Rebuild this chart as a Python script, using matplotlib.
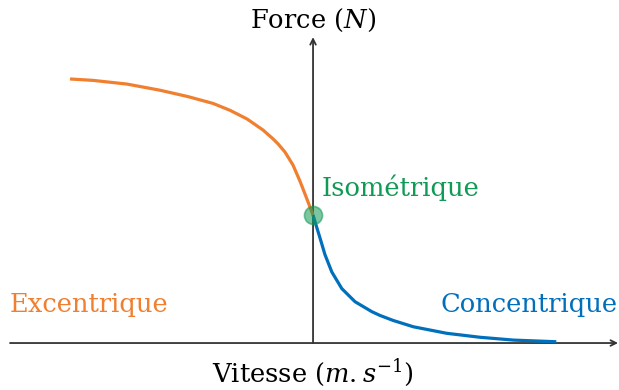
import matplotlib
matplotlib.use("Agg")
import matplotlib.pyplot as plt

# force-velocity relation (velocity normalised, force / isometric force)
ecc_v = [-0.996, -0.902, -0.762, -0.627, -0.512, -0.410, -0.340, -0.270, -0.205,
         -0.164, -0.143, -0.115, -0.082, -0.053, -0.025, 0.0]
ecc_f = [2.063, 2.052, 2.023, 1.975, 1.925, 1.872, 1.818, 1.75, 1.664,
         1.595, 1.555, 1.492, 1.39, 1.262, 1.125, 1.0]
con_v = [0.0, 0.008, 0.029, 0.049, 0.077, 0.118, 0.172, 0.241, 0.275, 0.329,
         0.411, 0.548, 0.684, 0.821, 0.997]
con_f = [1.0, 0.948, 0.818, 0.69, 0.555, 0.425, 0.323, 0.245, 0.215, 0.176,
         0.127, 0.076, 0.045, 0.023, 0.010]
iso_v, iso_f = 0.0, 1.0

orange = "#F07F2F"
blue = "#0070BC"
green = "#119A55"
axcol = "#333333"

plt.rcParams['font.family'] = 'DejaVu Serif'
plt.rcParams['mathtext.fontset'] = 'dejavuserif'

fig = plt.figure(figsize=(6.19, 3.90), dpi=100)
ax = fig.add_axes([0, 0, 1, 1])
ax.set_xlim(-1.283, 1.254)
ax.set_ylim(-0.367, 2.68)
ax.axis('off')

# axes with arrows
ax.annotate('', xy=(1.25, 0), xytext=(-1.242, 0),
            arrowprops=dict(arrowstyle='->', color=axcol, lw=1.3, shrinkA=0, shrinkB=0))
ax.annotate('', xy=(0, 2.39), xytext=(0, 0),
            arrowprops=dict(arrowstyle='->', color=axcol, lw=1.3, shrinkA=0, shrinkB=0))

ax.plot(ecc_v, ecc_f, color=orange, lw=2.3, solid_capstyle='butt', solid_joinstyle='round', zorder=3)
ax.plot(con_v, con_f, color=blue, lw=2.3, solid_capstyle='butt', solid_joinstyle='round', zorder=3)
ax.plot([iso_v], [iso_f], 'o', ms=13, color=green, alpha=0.55, mec=green, mew=1.2, zorder=4)

fs = 18.5
ax.text(0, 2.52, 'Force ($N$)', ha='center', va='center', fontsize=fs, color='black')
ax.text(0, -0.23, 'Vitesse ($m{.}s^{-1}$)', ha='center', va='center', fontsize=fs, color='black')
ax.text(-1.242, 0.30, 'Excentrique', ha='left', va='center', fontsize=fs, color=orange)
ax.text(1.25, 0.30, 'Concentrique', ha='right', va='center', fontsize=fs, color=blue)
ax.text(0.037, 1.21, 'Isométrique', ha='left', va='center', fontsize=fs, color=green)

plt.savefig('out.png', dpi=100)
